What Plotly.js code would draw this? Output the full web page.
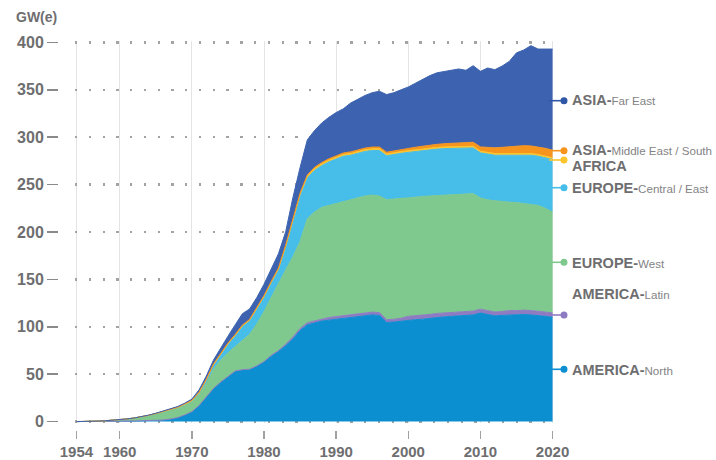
<!DOCTYPE html>
<html><head><meta charset="utf-8">
<script src="https://cdn.plot.ly/plotly-3.0.1.min.js"></script>
<style>html,body{margin:0;padding:0;background:#fff}</style>
</head><body>
<div id="chart" style="width:716px;height:460px"></div>
<script>
// ---- data (GW(e), by year) ----
const years = [1954,1955,1956,1957,1958,1959,1960,1961,1962,1963,
 1964,1965,1966,1967,1968,1969,1970,1971,1972,1973,
 1974,1975,1976,1977,1978,1979,1980,1981,1982,1983,
 1984,1985,1986,1987,1988,1989,1990,1991,1992,1993,
 1994,1995,1996,1997,1998,1999,2000,2001,2002,2003,
 2004,2005,2006,2007,2008,2009,2010,2011,2012,2013,
 2014,2015,2016,2017,2018,2019,2020];

const americaNorth = [0,0,0,0.1,0.1,0.2,0.4,0.5,0.7,0.9,
 1.1,1.3,1.6,2.6,4.2,7.0,10.5,17,26,35,
 41.5,47.5,53,54.5,55,58.5,63,69,74,80,
 87,96,102,104,106,107,108,109,110,111,
 112,112.5,112,104.5,105,106,107,107.5,108,109,
 110,110.5,111,111.5,112,112.5,114.5,113,111.5,112,
 112.5,112.5,113,112.5,112,111,110];

const americaLatin = [0,0,0,0,0,0,0,0,0,0,
 0,0,0,0,0,0,0,0,0,0,
 0.3,0.3,0.3,0.3,0.3,0.3,0.3,0.9,0.9,1.6,
 2.2,2.2,2.2,2.2,2.2,2.8,2.8,2.8,2.8,2.8,
 2.8,3.0,3.0,3.0,3.0,3.0,4.1,4.1,4.1,4.1,
 4.1,4.1,4.1,4.1,4.1,4.1,4.1,4.1,4.1,4.1,
 4.6,4.6,4.6,4.6,4.6,4.6,4.6];

const europeWest = [0,0,0.1,0.3,0.7,1.0,1.4,2.0,2.7,3.7,
 5.1,6.7,8.4,9.2,9.8,10.0,10.3,11.5,14,20,
 23.2,24.7,25.7,30.2,36.7,44.2,52.7,61.1,71.1,78.4,
 84.8,91.8,109.8,114.8,117.8,118.2,119.2,120.2,121.2,122.2,
 123.2,123.5,123,126.5,127,126.5,124.9,125.4,125.4,124.9,
 124.4,124.4,124.4,124.4,123.9,123.9,117.4,116.9,117.4,115.9,
 114.4,113.9,112.4,111.9,111.4,109.4,106.4];

const europeCentralEast = [0,0,0,0.1,0.1,0.2,0.2,0.3,0.4,0.4,
 0.4,0.5,0.6,0.8,1.0,1.2,1.2,2.0,4.0,5.0,
 6.0,9.5,12,16,15,17,16,16,15,25,
 38,48,43,44,44,46,47,48,47,47,
 47,47,48,46.5,47,47.5,48,48,48.5,49,
 49,49,48.5,48.5,48.5,48.2,47.5,48,48,49,
 49.5,50.5,51.5,52,52,53.5,55.5];

const africa = [0,0,0,0,0,0,0,0,0,0,
 0,0,0,0,0,0,0,0,0,0,
 0,0,0,0,0,0,0,0,0,0,
 0.9,1.8,1.8,1.8,1.8,1.8,1.8,1.8,1.8,1.8,
 1.8,1.8,1.8,1.8,1.8,1.8,1.8,1.8,1.8,1.8,
 1.8,1.8,1.8,1.8,1.8,1.8,1.8,1.8,1.8,1.8,
 1.8,1.8,1.8,1.8,1.8,1.8,1.8];

const asiaMiddleEastSouth = [0,0,0,0,0,0,0,0,0,0,
 0,0,0,0,0,0.4,0.4,0.6,0.6,0.8,
 0.8,0.8,0.8,0.8,0.8,0.8,0.9,0.9,1.0,1.1,
 1.2,1.2,1.3,1.4,1.4,1.5,1.5,1.6,1.7,1.7,
 1.7,1.8,1.8,1.9,1.9,2.0,2.5,2.6,2.7,3.0,
 3.2,3.4,3.6,3.8,4.0,4.2,4.5,5.5,6.0,6.5,
 7.0,7.5,7.8,8.0,8.0,8.0,8.0];

const asiaFarEast = [0,0,0,0,0,0,0,0,0,0.1,
 0.2,0.3,0.4,0.6,0.8,0.8,1.3,2.4,3.4,4.2,
 6.2,7.2,10.2,12,11,10,12,13,15,14,
 22,27,37,38.8,41.8,43.7,45.7,46.6,51.5,53.5,
 55.5,57.4,58.9,60.8,61.3,63.2,64.7,67.6,70.5,73.2,
 75.5,76.3,77.6,77.9,76.3,80.8,79.7,83.7,82.5,85.7,
 90.2,98.2,100.9,105.8,103.2,104.7,106.7];

const yTickVals = [0,50,100,150,200,250,300,350,400];
const xTickVals = [1954,1960,1970,1980,1990,2000,2010,2020];
const unitLabel = 'GW(e)';

const seriesValues = [americaNorth, americaLatin, europeWest, europeCentralEast, africa, asiaMiddleEastSouth, asiaFarEast];
const seriesMain = ['AMERICA-','AMERICA-','EUROPE-','EUROPE-','AFRICA','ASIA-','ASIA-'];
const seriesSub = ['North','Latin','West','Central / East','','Middle East / South','Far East'];

// ---- styles / layout ----
const fillColors = ['#0b8fd0','#8d7cc2','#7fc98f','#47bde9','#fcc52e','#f7941d','#3d63b0'];
const dotColors  = ['#0b8fd0','#8d7cc2','#7fc98f','#47bde9','#fcc52e','#f7941d','#2f57a6'];
const dotPxY  = [369.3, 315, 262.3, 187.7, 160, 150.7, 100.7];
const textPxY = [370, 294, 263, 188, 166, 150, 100];

const ML = 58, MR = 162, MT = 41, MB = 30;
const W = 716 - ML - MR, H = 460 - MT - MB;
const px2x = p => (p - ML) / W;
const px2y = p => (MT + H - p) / H;

const TXT = '#6e6e70', SUB = '#838385';
const FONT = "'Liberation Sans', Arial, sans-serif";

const traces = seriesValues.map((vals, i) => ({
  type: 'scatter', mode: 'lines', x: years, y: vals,
  stackgroup: 'one', fillcolor: fillColors[i],
  line: {color: fillColors[i], width: 1, shape: 'linear'},
  name: seriesMain[i] + seriesSub[i], hoverinfo: 'skip'
}));

const shapes = [], annotations = [];
seriesValues.forEach((v, i) => {
  shapes.push({type:'line', xref:'paper', yref:'paper', layer:'above',
    x0: px2x(549), x1: px2x(564), y0: px2y(dotPxY[i]), y1: px2y(dotPxY[i]),
    line:{color: dotColors[i], width: 1.6}});
  shapes.push({type:'circle', xref:'paper', yref:'paper', layer:'above',
    x0: px2x(560.5), x1: px2x(567.5), y0: px2y(dotPxY[i]-3.5), y1: px2y(dotPxY[i]+3.5),
    fillcolor: dotColors[i], line:{width:0}});
  const sub = seriesSub[i] ? '<span style="font-size:11.6px;font-weight:normal;fill:' + SUB + '">' + seriesSub[i] + '</span>' : '';
  annotations.push({xref:'paper', yref:'paper', x: px2x(570), y: px2y(textPxY[i]),
    xanchor:'left', yanchor:'middle', showarrow:false,
    text: '<b>' + seriesMain[i] + '</b>' + sub,
    font:{family: FONT, size: 14.5, color: TXT}});
});
annotations.push({xref:'paper', yref:'paper', x: px2x(14), y: px2y(17),
  xanchor:'left', yanchor:'middle', showarrow:false, text: '<b>' + unitLabel + '</b>',
  font:{family: FONT, size: 14, color: TXT}});

const layout = {
  width: 716, height: 460,
  margin: {l: ML, r: MR, t: MT, b: MB, pad: 0},
  paper_bgcolor: '#fff', plot_bgcolor: '#fff', showlegend: false,
  xaxis: {
    range: [1953.8, 2020.2], domain: [17 / W, 1], anchor: 'free', position: 0,
    tickmode: 'array', tickvals: xTickVals, ticktext: xTickVals.map(String),
    ticks: 'outside', ticklen: 8, tickwidth: 1.5, tickcolor: '#a0a0a0',
    showgrid: true, gridcolor: '#e4e4e4', gridwidth: 1,
    zeroline: false, showline: false, fixedrange: true,
    tickfont: {family: FONT, size: 15, color: TXT, weight: 'bold'}
  },
  yaxis: {
    range: [-1.5, 401.5], domain: [7 / H, 1], anchor: 'free', position: 0,
    tickmode: 'array', tickvals: yTickVals, ticktext: yTickVals.map(String),
    ticks: 'outside', ticklen: 11, tickwidth: 1.5, tickcolor: '#8a8a8a',
    showgrid: true, gridcolor: '#a3a3a3', gridwidth: 2.3, griddash: '2.3px,11.47px',
    zeroline: false, showline: false, fixedrange: true,
    tickfont: {family: FONT, size: 16, color: TXT, weight: 'bold'}
  },
  shapes: shapes, annotations: annotations
};

Plotly.newPlot('chart', traces, layout, {staticPlot: true, displayModeBar: false});
</script>
</body></html>
